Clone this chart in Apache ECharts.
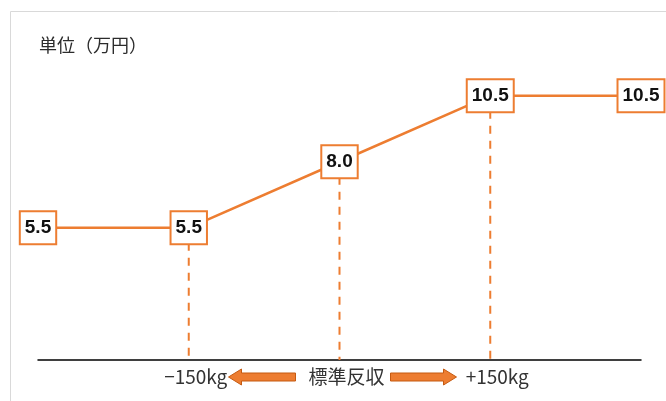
<!DOCTYPE html>
<html>
<head>
<meta charset="utf-8">
<script src="https://cdn.jsdelivr.net/npm/echarts@6/dist/echarts.min.js"></script>
<style>
  html, body { margin: 0; padding: 0; background: #fff; }
  #chart { width: 666px; height: 401px; }
</style>
</head>
<body>
<div id="chart"></div>
<script>
// Yield steps along the x axis and the payment (万円) at each step
const categories = ['', '−150kg', '標準反収', '+150kg', ''];
const payment = [5.5, 5.5, 8.0, 10.5, 10.5];
// Steps that get a dashed drop line down to the axis
const dropIndexes = [1, 2, 3];

const ORANGE = '#ED7D31';
const AXIS_MIN = 0.5;

const chart = echarts.init(document.getElementById('chart'), null, { renderer: 'canvas' });

const dropSeries = dropIndexes.map(i => ({
  type: 'line',
  z: 1,
  silent: true,
  symbol: 'none',
  data: [[i, payment[i]], [i, AXIS_MIN]],
  lineStyle: { color: ORANGE, width: 2, type: [8, 7] }
}));

chart.setOption({
  animation: false,
  grid: { left: 38, right: 25, top: 56, bottom: 41 },
  xAxis: {
    type: 'category',
    data: categories,
    boundaryGap: false,
    axisLine: { lineStyle: { color: '#000', width: 1.5 } },
    axisTick: { show: false },
    axisLabel: {
      color: '#333',
      fontSize: 19,
      margin: 7,
      padding: [0, 0, 0, 14],
      fontFamily: 'Noto Sans CJK JP, sans-serif',
      interval: 0
    }
  },
  yAxis: {
    type: 'value',
    min: AXIS_MIN,
    max: 12,
    show: false
  },
  series: [
    {
      type: 'line',
      z: 3,
      data: payment,
      symbol: 'circle',
      symbolSize: 1,
      showSymbol: true,
      itemStyle: { color: ORANGE },
      lineStyle: { color: ORANGE, width: 2.5 },
      label: {
        show: true,
        position: 'inside',
        formatter: p => p.value.toFixed(1),
        color: '#111',
        fontWeight: 'bold',
        fontSize: 19,
        lineHeight: 19,
        fontFamily: 'Liberation Sans, Arial, sans-serif',
        backgroundColor: '#fff',
        borderColor: ORANGE,
        borderWidth: 2,
        padding: [7, 4, 5, 4]
      }
    },
    ...dropSeries
  ]
});

// Frame, unit caption and the arrows around the centre axis label
function arrow(tipX, tailX, cy) {
  const dir = tailX > tipX ? 1 : -1;
  const head = 13 * dir;
  return [
    [tipX, cy],
    [tipX + head, cy - 8],
    [tipX + head, cy - 4],
    [tailX, cy - 4],
    [tailX, cy + 4],
    [tipX + head, cy + 4],
    [tipX + head, cy + 8]
  ];
}

const center = chart.convertToPixel({ xAxisIndex: 0 }, 2);
const base = chart.convertToPixel({ yAxisIndex: 0 }, AXIS_MIN);
const arrowY = base + 17;

chart.setOption({
  graphic: [
    {
      type: 'rect',
      shape: { x: 10.5, y: 11.5, width: 700, height: 450 },
      style: { fill: 'none', stroke: '#d9d9d9', lineWidth: 1 },
      silent: true,
      z: 0
    },
    {
      type: 'text',
      left: 39,
      top: 36,
      style: {
        text: '単位（万円）',
        fill: '#2b2b2b',
        fontSize: 18,
        fontFamily: 'Noto Sans CJK JP, sans-serif'
      }
    },
    {
      type: 'polygon',
      shape: { points: arrow(center - 111, center - 44, arrowY) },
      style: { fill: ORANGE, stroke: '#C55A11', lineWidth: 1 }
    },
    {
      type: 'polygon',
      shape: { points: arrow(center + 117, center + 51, arrowY) },
      style: { fill: ORANGE, stroke: '#C55A11', lineWidth: 1 }
    }
  ]
});
</script>
</body>
</html>
